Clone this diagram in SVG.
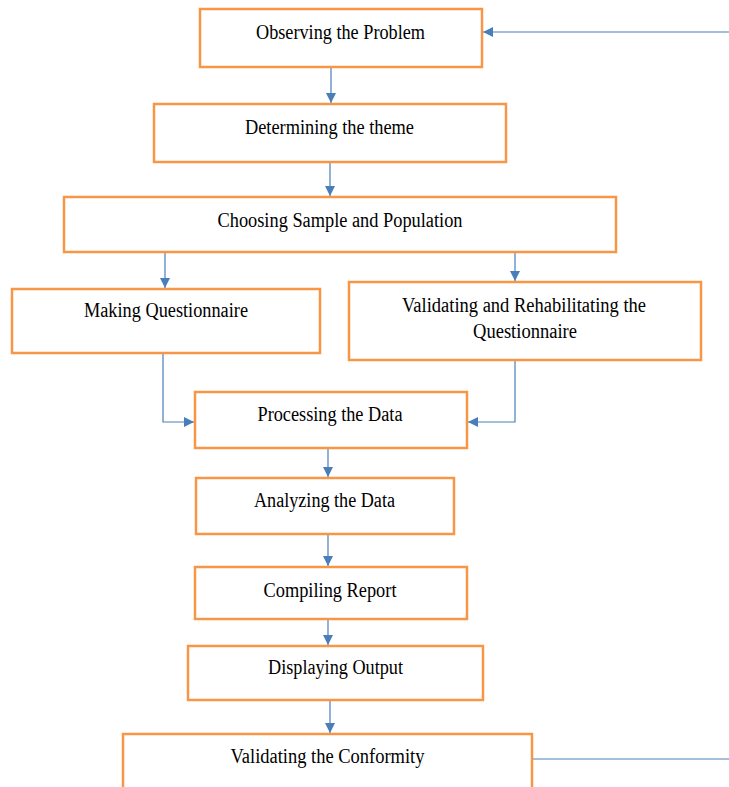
<svg xmlns="http://www.w3.org/2000/svg" width="729" height="787" viewBox="0 0 729 787">
<defs>
<marker id="arr" markerWidth="10" markerHeight="10" refX="10" refY="5" orient="auto" markerUnits="userSpaceOnUse">
<path d="M0,0 L10,5 L0,10 Z" fill="#4A7EBB"/>
</marker>
<style>
.box{fill:#fff;stroke:#F79646;stroke-width:2.5}
.t{font-family:'Liberation Serif','Times New Roman','DejaVu Serif',serif;font-size:20px;fill:#000;text-anchor:middle}
.c{fill:none;stroke:#4A7EBB;stroke-width:1.2}
</style>
</defs>
<rect width="729" height="787" fill="#fff"/>
<g id="connectors">
<path class="c" d="M729,32 H483" marker-end="url(#arr)"/>
<path class="c" d="M331,67 V103" marker-end="url(#arr)"/>
<path class="c" d="M330,162 V196" marker-end="url(#arr)"/>
<path class="c" d="M165,252 V288" marker-end="url(#arr)"/>
<path class="c" d="M515,252 V281" marker-end="url(#arr)"/>
<path class="c" d="M163,353 V422 H194" marker-end="url(#arr)"/>
<path class="c" d="M515,360 V422 H468" marker-end="url(#arr)"/>
<path class="c" d="M328,448 V477" marker-end="url(#arr)"/>
<path class="c" d="M328,534 V566" marker-end="url(#arr)"/>
<path class="c" d="M328,619 V645" marker-end="url(#arr)"/>
<path class="c" d="M330,700 V733" marker-end="url(#arr)"/>
<path class="c" d="M532,759 H729"/>
</g>
<g id="n1"><rect class="box" x="200" y="9" width="282" height="58"/><text class="t" x="340.5" y="39" textLength="169" lengthAdjust="spacingAndGlyphs">Observing the Problem</text></g>
<g id="n2"><rect class="box" x="154" y="104" width="352" height="58"/><text class="t" x="329.5" y="134" textLength="169" lengthAdjust="spacingAndGlyphs">Determining the theme</text></g>
<g id="n3"><rect class="box" x="64" y="197" width="552" height="55"/><text class="t" x="340" y="227" textLength="245" lengthAdjust="spacingAndGlyphs">Choosing Sample and Population</text></g>
<g id="n4"><rect class="box" x="12" y="289" width="308" height="64"/><text class="t" x="166" y="317" textLength="164" lengthAdjust="spacingAndGlyphs">Making Questionnaire</text></g>
<g id="n5"><rect class="box" x="349" y="282" width="352" height="78"/><text class="t" x="524" y="312" textLength="244" lengthAdjust="spacingAndGlyphs">Validating and Rehabilitating the</text><text class="t" x="525" y="338" textLength="104" lengthAdjust="spacingAndGlyphs">Questionnaire</text></g>
<g id="n6"><rect class="box" x="195" y="392" width="272" height="56"/><text class="t" x="330" y="421" textLength="145" lengthAdjust="spacingAndGlyphs">Processing the Data</text></g>
<g id="n7"><rect class="box" x="196" y="478" width="258" height="56"/><text class="t" x="324.5" y="507" textLength="141" lengthAdjust="spacingAndGlyphs">Analyzing the Data</text></g>
<g id="n8"><rect class="box" x="195" y="567" width="272" height="52"/><text class="t" x="330" y="597" textLength="133" lengthAdjust="spacingAndGlyphs">Compiling Report</text></g>
<g id="n9"><rect class="box" x="188" y="646" width="295" height="54"/><text class="t" x="335.5" y="674" textLength="135" lengthAdjust="spacingAndGlyphs">Displaying Output</text></g>
<g id="n10"><rect class="box" x="123" y="734" width="409" height="70"/><text class="t" x="327.5" y="763" textLength="194" lengthAdjust="spacingAndGlyphs">Validating the Conformity</text></g>
</svg>
